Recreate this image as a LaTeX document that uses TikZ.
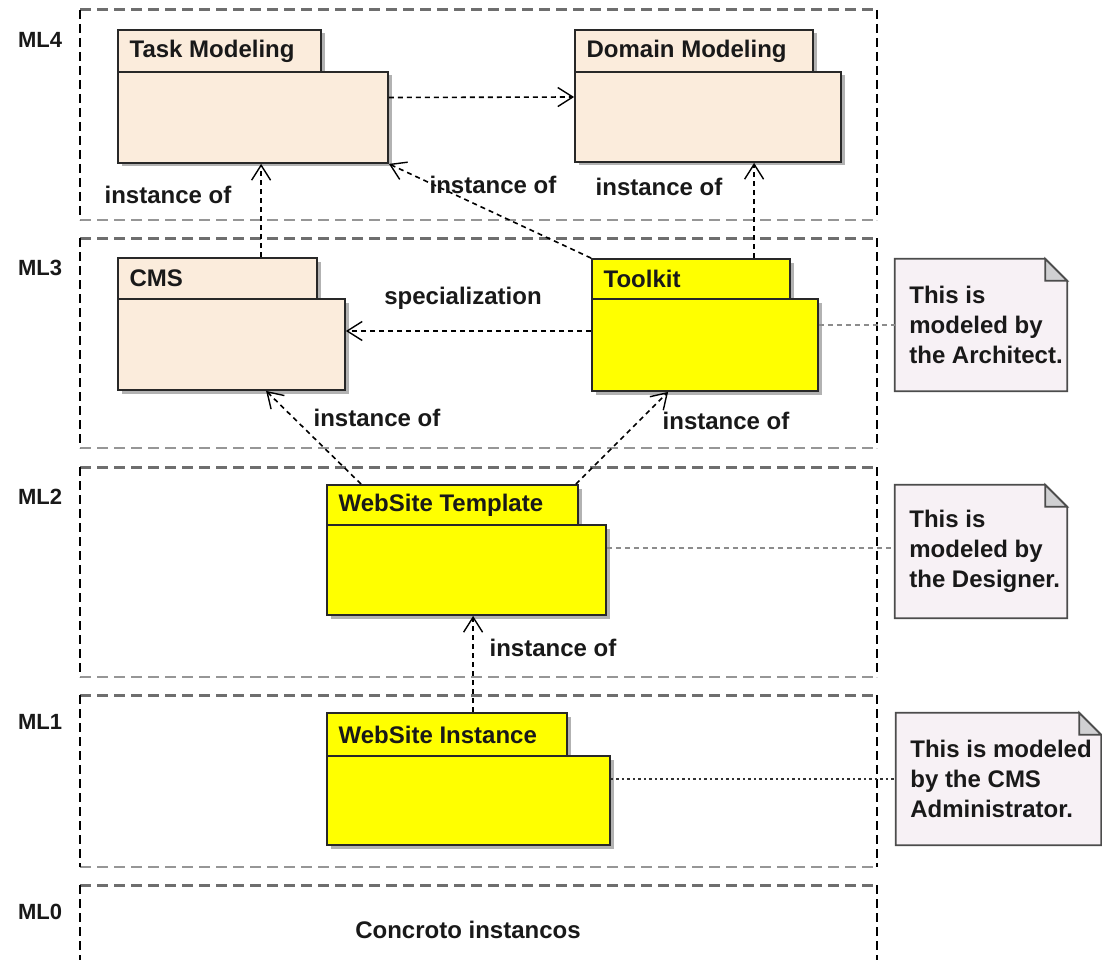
\documentclass[tikz,border=0pt]{standalone}
\usepackage{fontspec}
\setmainfont{Liberation Sans}
\usetikzlibrary{arrows.meta,calc,fit,shadows}

\definecolor{pkgbeige}{RGB}{251,236,220}
\definecolor{pkgyellow}{RGB}{255,255,0}
\definecolor{notefill}{RGB}{247,241,245}
\definecolor{foldfill}{RGB}{208,208,210}
\definecolor{edgecol}{RGB}{40,40,40}
\definecolor{bandtop}{RGB}{110,110,110}
\definecolor{bandbot}{RGB}{150,150,150}
\definecolor{inkcol}{RGB}{25,25,25}

\tikzset{
  every node/.style={font=\fontsize{24}{30}\selectfont\bfseries, text=inkcol},
  levellabel/.style={font=\fontsize{22}{26}\selectfont\bfseries},
  pkgpart/.style={draw=edgecol, line width=1.8pt, inner sep=0pt,
    drop shadow={shadow xshift=3.5pt, shadow yshift=-3.5pt, fill=black!30, opacity=1}},
  frame/.style={inner sep=0pt},
  bandtopline/.style={draw=bandtop, line width=3pt, dash pattern=on 11pt off 6pt},
  bandbotline/.style={draw=bandbot, line width=2.6pt, dash pattern=on 11pt off 6pt},
  bandside/.style={draw=black, line width=1.8pt, dash pattern=on 9pt off 5pt},
  dep/.style={draw=black, line width=1.6pt, dash pattern=on 5pt off 4pt,
    -{Straight Barb[length=15pt,width=19pt,line width=1.4pt]}},
  noteline/.style={draw=black!45, line width=2pt, dash pattern=on 5pt off 4pt},
  notelinedark/.style={draw=black!80, line width=2pt, dash pattern=on 2.5pt off 3pt},
  noteedge/.style={draw=black!70, line width=1.8pt, line join=miter},
}

% UML package: tab with its name, and the body below it
\newcommand{\umlpkg}[9]{%
  \node[pkgpart, fill=#8, fit={(#2,#3) (#4,#5)}] (#1T) {};
  \node[pkgpart, fill=#8, fit={(#2,#5) (#6,#7)}] (#1B) {};
  \node[anchor=west] (#1L) at ($(#1T.west)+(9,0)$) {#9};
}

% UML note with a folded corner
\newcommand{\umlnote}[6]{%
  \node[frame, fit={(#2,#3) (#4,#5)}] (#1) {};
  \filldraw[noteedge, fill=notefill] (#1.north west) -- ($(#1.north east)+(-22,0)$)
    -- ($(#1.north east)+(0,22)$) -- (#1.south east) -- (#1.south west) -- cycle;
  \filldraw[noteedge, fill=foldfill] ($(#1.north east)+(-22,0)$) -- ($(#1.north east)+(-22,22)$)
    -- ($(#1.north east)+(0,22)$) -- cycle;
  \node[anchor=west, align=left] (#1T) at ($(#1.west)+(11,0)$) {#6};
}

\begin{document}
\begin{tikzpicture}[x=1pt, y=-1pt]
\useasboundingbox (0,0) rectangle (1102,960);
\fill[white] (0,0) rectangle (1102,960);

% meta-level bands
\foreach \t/\b in {10/220, 238/448, 467/677, 695/867} {
  \draw[bandtopline] (80,\t) -- (877,\t);
  \draw[bandbotline] (80,\b) -- (877,\b);
  \draw[bandside] (80,\t) -- (80,\b);
  \draw[bandside] (877,\t) -- (877,\b);
}
\draw[bandtopline] (80,885) -- (877,885);
\draw[bandside] (80,885) -- (80,962);
\draw[bandside] (877,885) -- (877,962);

\node[levellabel] (ml4) at (40,40) {ML4};
\node[levellabel] (ml3) at (40,268) {ML3};
\node[levellabel] (ml2) at (40,497) {ML2};
\node[levellabel] (ml1) at (40,722) {ML1};
\node[levellabel] (ml0) at (40,912) {ML0};

% packages
\umlpkg{tm}{118}{30}{321}{72}{388}{163}{pkgbeige}{Task Modeling}
\umlpkg{dm}{575}{30}{813}{72}{841}{162}{pkgbeige}{Domain Modeling}
\umlpkg{cms}{118}{258}{317}{299}{345}{390}{pkgbeige}{CMS}
\umlpkg{tk}{592}{259}{790}{299}{818}{391}{pkgyellow}{Toolkit}
\umlpkg{wst}{327}{485}{578}{525}{606}{615}{pkgyellow}{WebSite Template}
\umlpkg{wsi}{327}{713}{567}{756}{610}{845}{pkgyellow}{WebSite Instance}

% notes
\umlnote{na}{895}{259}{1067}{391}{This is\\modeled by\\the Architect.}
\umlnote{nd}{895}{485}{1067}{618}{This is\\modeled by\\the Designer.}
\umlnote{nc}{896}{713}{1101}{845}{This is modeled\\by the CMS\\Administrator.}

% note attachments
\draw[noteline] (tkB.east |- na.west) -- (na.west);
\coordinate (c5) at ($(wstB.east)+(0,-22)$);
\draw[noteline] (c5) -- (c5 -| nd.west);
\draw[notelinedark] (wsiB.east |- nc.west) -- (nc.west);

% dependencies
\draw[dep] ($(tmB.east)+(0,-20)$) -- ($(dmB.west)+(0,-20)$);
\draw[dep] ($(cmsT.north west)+(144,0)$) coordinate (c1) -- (c1 |- tmB.south);
\draw[dep] (tkT.north west) -- (tmB.south east);
\draw[dep] ($(tkT.north west)+(163,0)$) coordinate (c2) -- (c2 |- dmB.south);
\draw[dep] ($(tkB.west)+(0,-14)$) coordinate (c3) -- (c3 -| cmsB.east);
\draw[dep] ($(wstT.north west)+(35,0)$) -- ($(cmsB.south west)+(149,0)$);
\draw[dep] ($(wstT.north east)+(-3,0)$) -- ($(tkB.south west)+(77,0)$);
\draw[dep] ($(wsiT.north west)+(147,0)$) coordinate (c4) -- (c4 |- wstB.south);

% connector labels
\node (li1) at (168,195) {instance of};
\node (li2) at (493,185) {instance of};
\node (li3) at (659,187) {instance of};
\node (lsp) at (463,298) {specialization};
\node (li4) at (377,418) {instance of};
\node (li5) at (726,421) {instance of};
\node (li6) at (553,648) {instance of};

\node (ml0txt) at (468,930) {Concroto instancos};
\end{tikzpicture}
\end{document}
